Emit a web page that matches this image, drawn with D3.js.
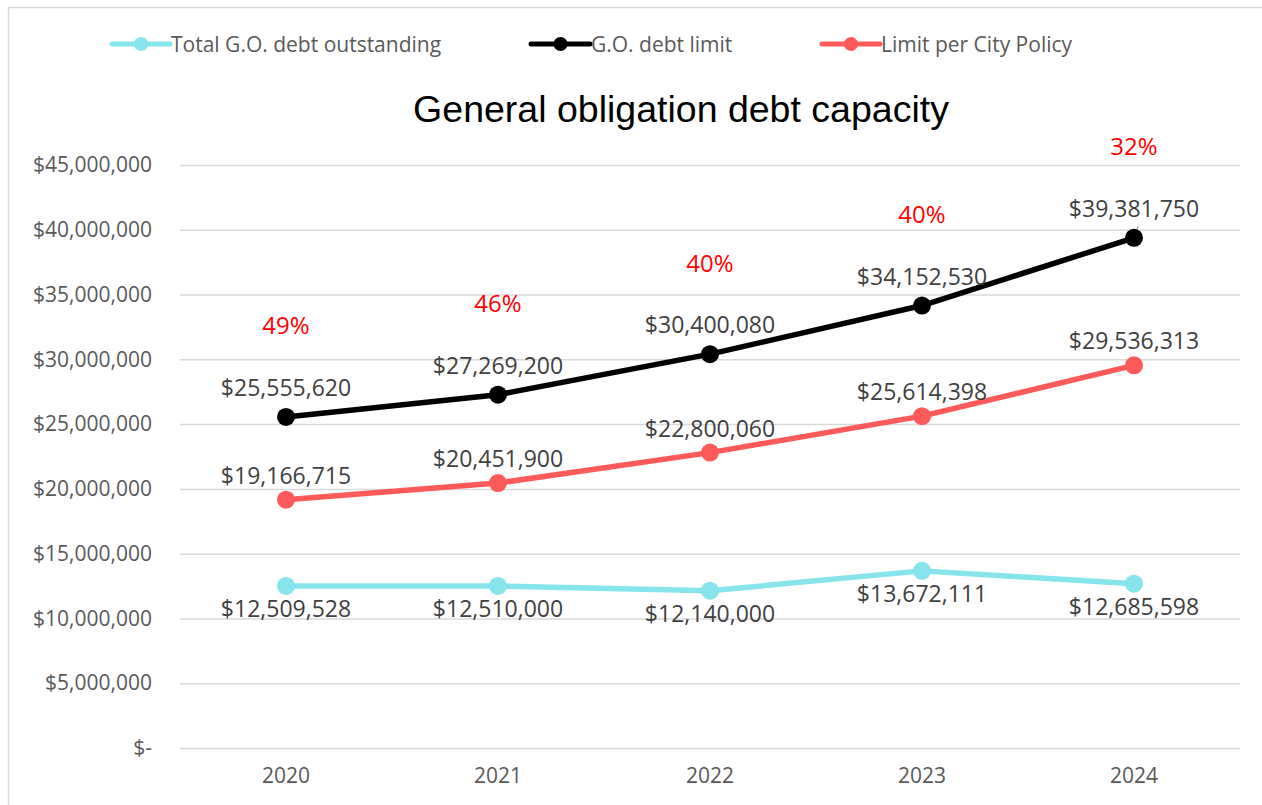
<!DOCTYPE html>
<html>
<head>
<meta charset="utf-8">
<script src="https://cdn.jsdelivr.net/npm/d3@7"></script>
<style>
  body { margin: 0; background: #fff; }
  svg { display: block; }
  text { font-family: 'Open Sans', 'Noto Sans', sans-serif; }
</style>
</head>
<body>
<svg id="chart" width="1262" height="805"></svg>
<script>
// ---- data ----
const years = ["2020", "2021", "2022", "2023", "2024"];
const debtOutstanding = [12509528, 12510000, 12140000, 13672111, 12685598];
const debtLimit = [25555620, 27269200, 30400080, 34152530, 39381750];
const cityPolicyLimit = [19166715, 20451900, 22800060, 25614398, 29536313];
const percentLabels = ["49%", "46%", "40%", "40%", "32%"];
const yTicks = [0, 5000000, 10000000, 15000000, 20000000, 25000000, 30000000, 35000000, 40000000, 45000000];
const seriesNames = ["Total G.O. debt outstanding", "G.O. debt limit", "Limit per City Policy"];
const chartTitle = "General obligation debt capacity";

// ---- layout / style ----
const W = 1262, H = 805;
const plot = { left: 180, right: 1240, top: 165, bottom: 748 };
const colors = ["#85E4EC", "#000000", "#FF5A5A"];
const gray = "#595959";

const svg = d3.select("#chart");

// outer frame
svg.append("rect").attr("x", 8.5).attr("y", 7.5).attr("width", W).attr("height", H)
  .attr("fill", "none").attr("stroke", "#D9D9D9").attr("stroke-width", 1.5);

const x = d3.scaleBand().domain(years).range([plot.left, plot.right]);
const y = d3.scaleLinear().domain([0, 45000000]).range([plot.bottom, plot.top]);
const cx = d => x(d) + x.bandwidth() / 2;

// gridlines
const grid = svg.append("g").attr("transform", `translate(${plot.left},0)`)
  .call(d3.axisLeft(y).tickValues(yTicks).tickSize(-(plot.right - plot.left)).tickFormat(""));
grid.select(".domain").remove();
grid.selectAll("line").attr("stroke", "#D9D9D9").attr("stroke-width", 1.5);

// y axis labels
const fmtMoney = d => d === 0 ? "$-" : "$" + d3.format(",")(d);
const yAxis = svg.append("g").attr("transform", `translate(${plot.left},0)`)
  .call(d3.axisLeft(y).tickValues(yTicks).tickSize(0).tickPadding(28).tickFormat(fmtMoney));
yAxis.select(".domain").remove();
yAxis.selectAll("text").attr("fill", gray).style("font-size", "21px")
  .style("font-family", "'Open Sans', sans-serif");

// x axis labels
const xAxis = svg.append("g").attr("transform", `translate(0,${plot.bottom})`)
  .call(d3.axisBottom(x).tickSize(0).tickPadding(20));
xAxis.select(".domain").remove();
xAxis.selectAll("text").attr("fill", gray).style("font-size", "21px")
  .style("font-family", "'Open Sans', sans-serif");

// title
svg.append("text").attr("x", 681).attr("y", 122).attr("text-anchor", "middle")
  .style("font-family", "'Liberation Sans', Arial, sans-serif").style("font-size", "37.5px")
  .attr("fill", "#000").text(chartTitle);

// series
const seriesData = [debtOutstanding, debtLimit, cityPolicyLimit];
const line = d3.line().x((d, i) => cx(years[i])).y(d => y(d));

seriesData.forEach((vals, si) => {
  svg.append("path").datum(vals).attr("d", line).attr("fill", "none")
    .attr("stroke", colors[si]).attr("stroke-width", 5.5).attr("stroke-linejoin", "round")
    .attr("stroke-linecap", "round");
});

// leader line for last debt-limit label
svg.append("line")
  .attr("x1", cx(years[4]) + 1).attr("y1", y(debtLimit[4]) - 1)
  .attr("x2", cx(years[4]) + 4).attr("y2", y(debtLimit[4]) - 12)
  .attr("stroke", "#A6A6A6").attr("stroke-width", 1.2);

seriesData.forEach((vals, si) => {
  svg.append("g").selectAll("circle").data(vals).join("circle")
    .attr("cx", (d, i) => cx(years[i])).attr("cy", d => y(d)).attr("r", 9)
    .attr("fill", colors[si]);
});

// data labels
const labelStyle = sel => sel.attr("fill", "#404040").style("font-size", "23px")
  .attr("text-anchor", "middle").attr("dominant-baseline", "central");
const labelOffsets = [22, -30, -25];
seriesData.forEach((vals, si) => {
  svg.append("g").selectAll("text").data(vals).join("text")
    .attr("x", (d, i) => cx(years[i]))
    .attr("y", d => y(d) + labelOffsets[si])
    .call(labelStyle)
    .text(d => "$" + d3.format(",")(d));
});

// percent labels
svg.append("g").selectAll("text").data(percentLabels).join("text")
  .attr("x", (d, i) => cx(years[i]))
  .attr("y", (d, i) => y(debtLimit[i]) - 92)
  .attr("text-anchor", "middle").attr("dominant-baseline", "central")
  .attr("fill", "#FF0000").style("font-size", "24px")
  .text(d => d);

// legend
const legendItems = [
  { x1: 112, x2: 170, tx: 171 },
  { x1: 531, x2: 590, tx: 591 },
  { x1: 822, x2: 880, tx: 881 }
];
const legendY = 44;
const lg = svg.append("g");
legendItems.forEach((it, i) => {
  lg.append("line").attr("x1", it.x1).attr("x2", it.x2).attr("y1", legendY).attr("y2", legendY)
    .attr("stroke", colors[i]).attr("stroke-width", 5).attr("stroke-linecap", "round");
  lg.append("circle").attr("cx", (it.x1 + it.x2) / 2).attr("cy", legendY).attr("r", 7)
    .attr("fill", colors[i]);
  lg.append("text").attr("x", it.tx).attr("y", legendY).attr("dominant-baseline", "central")
    .attr("fill", gray).style("font-size", "21px").text(seriesNames[i]);
});
</script>
</body>
</html>
